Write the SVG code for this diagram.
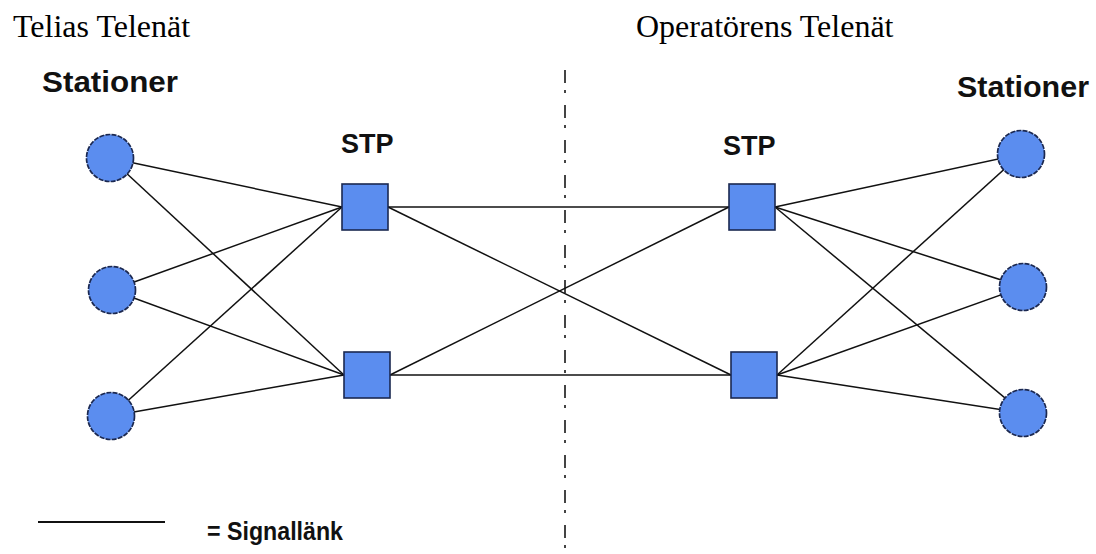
<svg xmlns="http://www.w3.org/2000/svg" width="1096" height="554" viewBox="0 0 1096 554">
<style>
.title{font-family:"Liberation Serif","Times New Roman",serif;font-size:32px;fill:#000}
.lbl{font-family:"Liberation Sans",Arial,sans-serif;font-weight:bold;fill:#111}
.st{fill:#5b8def;stroke:#1b2850;stroke-width:1.7;stroke-dasharray:5 1.2}
.sq{fill:#5b8def;stroke:#1b2850;stroke-width:1.6}
.link{stroke:#111;stroke-width:1.5;fill:none}
</style>
<rect width="1096" height="554" fill="#fff"/>
<text class="title" x="13" y="37">Telias Telenät</text>
<text class="title" x="636" y="37">Operatörens Telenät</text>
<line x1="565" y1="70" x2="565" y2="554" stroke="#444" stroke-width="2" stroke-dasharray="13 7 3 12"/>
<g id="connectors">
<line class="link" x1="110" y1="158" x2="342" y2="207"/>
<line class="link" x1="110" y1="158" x2="344" y2="375"/>
<line class="link" x1="112" y1="290" x2="342" y2="207"/>
<line class="link" x1="112" y1="290" x2="344" y2="375"/>
<line class="link" x1="111" y1="416" x2="342" y2="207"/>
<line class="link" x1="111" y1="416" x2="344" y2="375"/>
<line class="link" x1="388" y1="207" x2="729" y2="207"/>
<line class="link" x1="388" y1="207" x2="731" y2="375"/>
<line class="link" x1="390" y1="375" x2="729" y2="207"/>
<line class="link" x1="390" y1="375" x2="731" y2="375"/>
<line class="link" x1="775" y1="207" x2="1021" y2="154"/>
<line class="link" x1="775" y1="207" x2="1023" y2="287"/>
<line class="link" x1="775" y1="207" x2="1023" y2="413"/>
<line class="link" x1="777" y1="375" x2="1021" y2="154"/>
<line class="link" x1="777" y1="375" x2="1023" y2="287"/>
<line class="link" x1="777" y1="375" x2="1023" y2="413"/>
</g>
<g id="stationer-vanster">
<text class="lbl" x="42" y="92" font-size="30" textLength="136" lengthAdjust="spacingAndGlyphs">Stationer</text>
</g>
<g id="station-v1"><circle class="st" cx="110" cy="158" r="23.5"/></g>
<g id="station-v2"><circle class="st" cx="112" cy="290" r="23.5"/></g>
<g id="station-v3"><circle class="st" cx="111" cy="416" r="23.5"/></g>
<g id="stp-v1">
<text class="lbl" x="341" y="153" font-size="27">STP</text>
<rect class="sq" x="342" y="184" width="46" height="46"/>
</g>
<g id="stp-v2"><rect class="sq" x="344" y="352" width="46" height="46"/></g>
<g id="stp-h1">
<text class="lbl" x="723" y="155" font-size="27">STP</text>
<rect class="sq" x="729" y="184" width="46" height="46"/>
</g>
<g id="stp-h2"><rect class="sq" x="731" y="352" width="46" height="46"/></g>
<g id="stationer-hoger">
<text class="lbl" x="957" y="97" font-size="30" textLength="132" lengthAdjust="spacingAndGlyphs">Stationer</text>
</g>
<g id="station-h1"><circle class="st" cx="1021" cy="154" r="23.5"/></g>
<g id="station-h2"><circle class="st" cx="1023" cy="287" r="23.5"/></g>
<g id="station-h3"><circle class="st" cx="1023" cy="413" r="23.5"/></g>
<g id="legend">
<line x1="38" y1="522" x2="165" y2="522" stroke="#111" stroke-width="2"/>
<text class="lbl" x="207" y="540" font-size="26" textLength="136" lengthAdjust="spacingAndGlyphs">= Signallänk</text>
</g>
</svg>
